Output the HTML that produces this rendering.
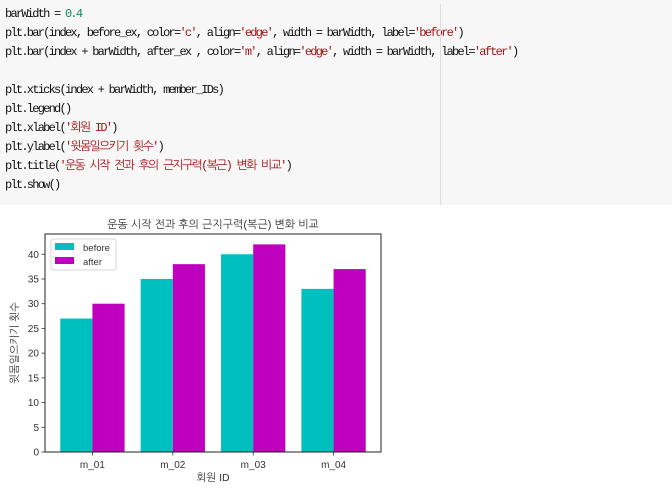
<!DOCTYPE html>
<html><head><meta charset="utf-8"><style>
body{margin:0;width:672px;height:500px;background:#fff;position:relative;overflow:hidden;font-family:"Liberation Sans","NanumGothic",sans-serif}
#code{position:absolute;left:0;top:0;width:672px;height:205px;background:#f7f7f7}
#code pre{margin:0;position:absolute;left:5px;top:5px;font-family:"Liberation Mono","NanumGothic",monospace;font-size:12px;letter-spacing:-1.75px;line-height:19px;color:#111}
.s{color:#a31515}.n{color:#098658}
#vline{position:absolute;left:440px;top:4px;width:1px;height:201px;background:#ddd}
svg text{font-family:"Liberation Sans","NanumGothic",sans-serif;fill:#333}
</style></head><body>
<div id="code">
<pre>barWidth = <span class="n">0.4</span>
plt.bar(index, before_ex, color=<span class="s">'c'</span>, align=<span class="s">'edge'</span>, width = barWidth, label=<span class="s">'before'</span>)
plt.bar(index + barWidth, after_ex , color=<span class="s">'m'</span>, align=<span class="s">'edge'</span>, width = barWidth, label=<span class="s">'after'</span>)

plt.xticks(index + barWidth, member_IDs)
plt.legend()
plt.xlabel(<span class="s">'회원 ID'</span>)
plt.ylabel(<span class="s">'윗몸일으키기 횟수'</span>)
plt.title(<span class="s">'운동 시작 전과 후의 근지구력(복근) 변화 비교'</span>)
plt.show()</pre>
<div id="vline"></div>
</div>
<svg id="chart" width="672" height="500" style="position:absolute;left:0;top:0"></svg>
<script>
const categories=['m_01','m_02','m_03','m_04'];
const beforeVals=[27,35,40,33];
const afterVals=[30,38,42,37];
const yTicks=[0,5,10,15,20,25,30,35,40];
const NS='http://www.w3.org/2000/svg';
const svg=document.getElementById('chart');
const L=45,R=381,T=234,B=452,bw=0.4;
const xmin=-0.19,xmax=3.99,ymax=44.1;
const xs=v=>L+(v-xmin)/(xmax-xmin)*(R-L);
const ys=v=>B-v/ymax*(B-T);
function mk(tag,attrs,txt){const e=document.createElementNS(NS,tag);for(const k in attrs)e.setAttribute(k,attrs[k]);if(txt!==undefined)e.textContent=txt;svg.appendChild(e);return e;}
categories.forEach((c,i)=>{
 let r=mk('rect',{x:xs(i),y:ys(beforeVals[i]),width:xs(i+bw)-xs(i),height:B-ys(beforeVals[i]),fill:'#00bfbf'});
 
 
 let r2=mk('rect',{x:xs(i+bw),y:ys(afterVals[i]),width:xs(i+2*bw)-xs(i+bw),height:B-ys(afterVals[i]),fill:'#bf00bf'});
 
 
 const tx=xs(i+bw);
 mk('line',{x1:tx,x2:tx,y1:B,y2:B+3.5,stroke:'#333','stroke-width':0.8});
 let t=mk('text',{x:tx,y:B+16,'text-anchor':'middle','font-size':10},c);
 
 
});
yTicks.forEach(v=>{
 const y=ys(v);
 mk('line',{x1:L-3.5,x2:L,y1:y,y2:y,stroke:'#333','stroke-width':0.8});
 let t=mk('text',{x:L-6,y:y+3.5,'text-anchor':'end','font-size':10},v);
 
 
});
let fr=mk('rect',{x:L,y:T,width:R-L,height:B-T,fill:'none',stroke:'#222','stroke-width':1});


let ti=mk('text',{x:(L+R)/2,y:T-6,'text-anchor':'middle','font-size':11},'운동 시작 전과 후의 근지구력(복근) 변화 비교');


let xl=mk('text',{x:(L+R)/2,y:481,'text-anchor':'middle','font-size':10.5},'회원 ID');


let yl=mk('text',{x:0,y:0,'text-anchor':'middle','font-size':10.5,transform:`translate(18,${(T+B)/2}) rotate(-90)`},'윗몸일으키기 횟수');


let lg=mk('rect',{x:51,y:239,width:65,height:31,fill:'#fff',stroke:'#ccc','stroke-width':0.8,rx:2});


mk('rect',{x:55,y:243,width:19,height:7,fill:'#00bfbf'});
let l1=mk('text',{x:83,y:251,'font-size':9.5},'before');


mk('rect',{x:55,y:257,width:19,height:7,fill:'#bf00bf'});
let l2=mk('text',{x:83,y:265,'font-size':9.5},'after');


</script>
</body></html>
